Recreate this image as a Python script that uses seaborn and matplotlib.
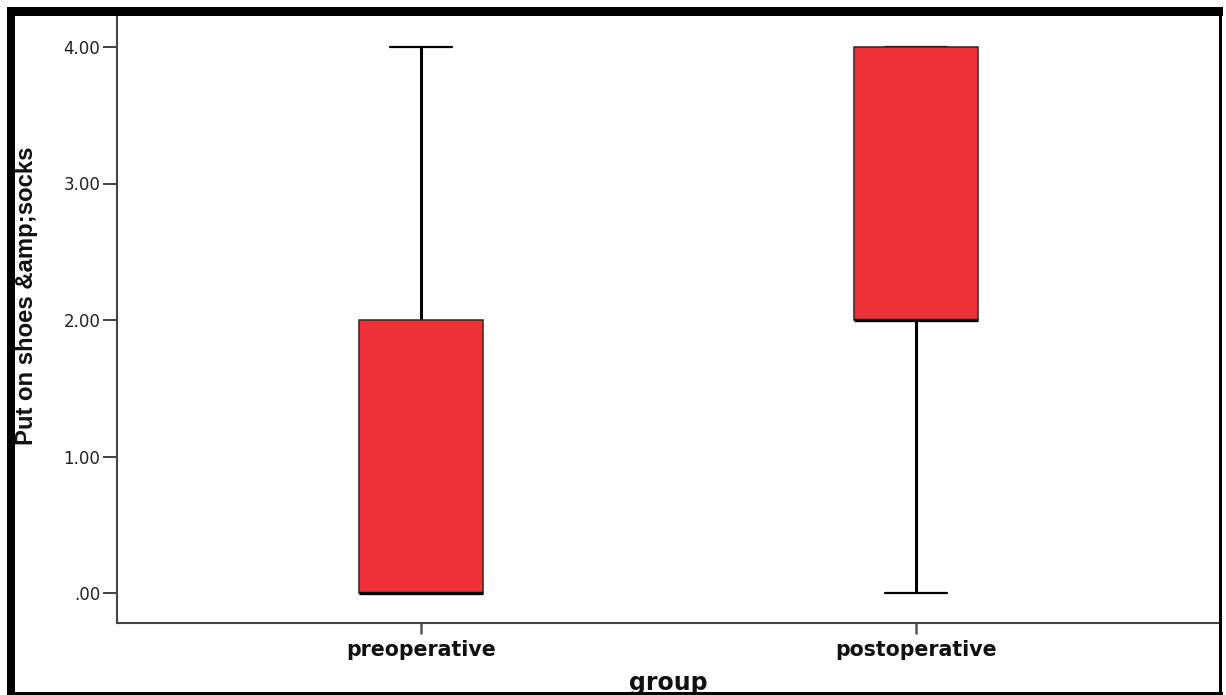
import matplotlib
matplotlib.use("Agg")
import matplotlib.pyplot as plt
import seaborn as sns
import pandas as pd
from matplotlib.patches import Rectangle

# ---- data (ordinal scores) ----
groups = ["preoperative", "postoperative"]
pre_scores = [0, 0, 0, 0, 2, 2, 4]
post_scores = [0, 2, 2, 2, 4, 4, 4]
y_ticks = [0, 1, 2, 3, 4]
y_tick_labels = [".00", "1.00", "2.00", "3.00", "4.00"]
x_label = "group"
y_label = "Put on shoes &amp;socks"

df = pd.DataFrame({
    "group": [groups[0]] * len(pre_scores) + [groups[1]] * len(post_scores),
    "score": pre_scores + post_scores,
})

sns.set_theme(style="white")
plt.rcParams["font.family"] = ["DejaVu Sans"]

W, H = 1226, 695
fig = plt.figure(figsize=(W / 100, H / 100), dpi=100)
fig.patch.set_facecolor("white")

ax_left, ax_right, ax_bottom, ax_top = 117, 1219, 623, 16
ax = fig.add_axes([ax_left / W, (H - ax_bottom) / H,
                   (ax_right - ax_left) / W, (ax_bottom - ax_top) / H])

sns.boxplot(
    data=df, x="group", y="score", order=groups, ax=ax,
    color="#EF3139", saturation=1, width=0.25, whis=(0, 100),
    showfliers=False, linecolor="#111111", linewidth=1.2,
    boxprops=dict(edgecolor="#2a2a2a", linewidth=1.1, zorder=3),
    medianprops=dict(color="black", linewidth=2.4, zorder=4),
    whiskerprops=dict(color="black", linewidth=2.2, zorder=2),
    capprops=dict(color="black", linewidth=1.6, zorder=1),
)

# axis limits from pixel mapping
unit = 136.5
y0 = 593
ax.set_ylim((y0 - ax_bottom) / unit, (y0 - ax_top) / unit)
cx0, cx1 = 421, 916
ax.set_xlim((ax_left - cx0) / (cx1 - cx0), (ax_right - cx0) / (cx1 - cx0))

ax.set_yticks(y_ticks)
ax.set_yticklabels(y_tick_labels, fontsize=12, color="#222222")
ax.set_xticks(range(len(groups)))
ax.set_xticklabels(groups, fontsize=14.8, fontweight="bold", color="#111111")

ax.tick_params(axis="y", which="major", left=True, length=10, width=1.3,
               color="#333333", pad=2, direction="out")
ax.tick_params(axis="x", which="major", bottom=True, length=8, width=1.8,
               color="#555555", pad=4, direction="out")

for s in ["top", "right"]:
    ax.spines[s].set_visible(False)
for s in ["left", "bottom"]:
    ax.spines[s].set_color("#444444")
    ax.spines[s].set_linewidth(1.5)

ax.set_xlabel("")
ax.set_ylabel("")
fig.text(668 / W, 1 - 683 / H, x_label, ha="center", va="center",
         fontsize=17, fontweight="bold", color="#111111")
fig.text(27 / W, 1 - 296 / H, y_label, ha="center", va="center",
         rotation=90, fontsize=17.2, fontweight="bold", color="#111111",
         family=["Liberation Sans Narrow", "Liberation Sans", "DejaVu Sans"])

# black screenshot frame
def frame(x, y, w, h):
    fig.add_artist(Rectangle((x / W, 1 - (y + h) / H), w / W, h / H,
                             transform=fig.transFigure, facecolor="black",
                             edgecolor="none", zorder=10))

frame(7, 7, 1216, 9)      # top thick
frame(7, 7, 8, 688)       # left thick
frame(1219, 7, 3, 688)    # right thin
frame(7, 692, 1216, 3)    # bottom thin

fig.savefig("out.png", dpi=100)
